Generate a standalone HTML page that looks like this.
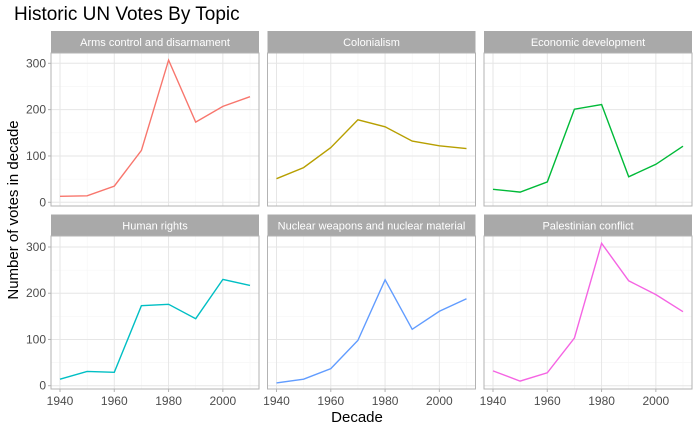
<!DOCTYPE html>
<html><head><meta charset="utf-8"><style>
body{margin:0;background:#fff}
svg{display:block;font-family:"Liberation Sans",Arial,sans-serif}
</style></head><body>
<svg id="chart" width="700" height="432">
<text x="14" y="20" font-size="19" fill="#000">Historic UN Votes By Topic</text>
<text transform="translate(18,210) rotate(-90)" text-anchor="middle" font-size="15" fill="#000">Number of votes in decade</text>
<text x="357" y="422" text-anchor="middle" font-size="15" fill="#000">Decade</text>
</svg>
<script>
const decades=[1940,1950,1960,1970,1980,1990,2000,2010];
const topics=["Arms control and disarmament","Colonialism","Economic development","Human rights","Nuclear weapons and nuclear material","Palestinian conflict"];
const armsVotes=[13,14,35,112,307,173,207,228];
const colonialismVotes=[51,75,118,178,163,132,122,116];
const economicVotes=[28,22,44,201,211,55,82,121];
const humanRightsVotes=[14,31,29,173,176,145,230,217];
const nuclearVotes=[6,14,37,98,229,122,161,188];
const palestinianVotes=[32,10,28,103,308,227,197,160];
const seriesValues=[armsVotes,colonialismVotes,economicVotes,humanRightsVotes,nuclearVotes,palestinianVotes];
const colors=["#F8766D","#B79F00","#00BA38","#00BFC4","#619CFF","#F564E3"];
const yTicks=[0,100,200,300];
const yMinor=[50,150,250];
const xTicks=[1940,1960,1980,2000];
const xMinor=[1950,1970,1990,2010];
const NS="http://www.w3.org/2000/svg";
const svg=document.getElementById('chart');
function mk(tag,attrs,parent){const e=document.createElementNS(NS,tag);for(const k in attrs)e.setAttribute(k,attrs[k]);(parent||svg).appendChild(e);return e;}
const pw=208, px0=[51,267.5,484], rows=[{st:31,pt:53,pb:206,y0:202.3,y300:63.3},{st:214.5,pt:236,pb:389,y0:385.7,y300:247}];
topics.forEach((t,i)=>{
  const r=rows[Math.floor(i/3)], x0=px0[i%3];
  const xs=d=>x0+9+(d-1940)*(190/70);
  const ys=v=>r.y0-(v/300)*(r.y0-r.y300);
  const g=mk('g',{});
  
  
  const strip=mk('rect',{x:x0,y:r.st,width:pw,height:r.pt-r.st,fill:'#A9A9A9'},g);
  
  
  const st=mk('text',{x:x0+pw/2,y:(r.st+r.pt)/2+4,'text-anchor':'middle','font-size':'11',fill:'#fff'},g);
  st.textContent=t;
  
  
  yMinor.forEach(v=>mk('line',{x1:x0,x2:x0+pw,y1:ys(v),y2:ys(v),stroke:'#F5F5F5','stroke-width':0.6},g));
  xMinor.forEach(d=>mk('line',{x1:xs(d),x2:xs(d),y1:r.pt,y2:r.pb,stroke:'#F5F5F5','stroke-width':0.6},g));
  yTicks.forEach(v=>mk('line',{x1:x0,x2:x0+pw,y1:ys(v),y2:ys(v),stroke:'#E6E6E6','stroke-width':1},g));
  xTicks.forEach(d=>mk('line',{x1:xs(d),x2:xs(d),y1:r.pt,y2:r.pb,stroke:'#E6E6E6','stroke-width':1},g));
  const border=mk('rect',{x:x0,y:r.pt,width:pw,height:r.pb-r.pt,fill:'none',stroke:'#B3B3B3','stroke-width':1},g);
  
  
  const pts=seriesValues[i].map((v,k)=>xs(decades[k]).toFixed(1)+','+ys(v).toFixed(1)).join(' ');
  const line=mk('polyline',{points:pts,fill:'none',stroke:colors[i],'stroke-width':1.4},g);
  
  
  if(i%3===0){
    yTicks.forEach(v=>{
      mk('line',{x1:x0-3,x2:x0,y1:ys(v),y2:ys(v),stroke:'#B3B3B3'},g);
      const tl=mk('text',{x:x0-5,y:ys(v)+4,'text-anchor':'end','font-size':'12',fill:'#4D4D4D'},g);
      tl.textContent=v;
      
      
    });
  }
  if(i>=3){
    xTicks.forEach(d=>{
      mk('line',{x1:xs(d),x2:xs(d),y1:r.pb,y2:r.pb+3,stroke:'#B3B3B3'},g);
      const tl=mk('text',{x:xs(d),y:r.pb+16,'text-anchor':'middle','font-size':'12',fill:'#4D4D4D'},g);
      tl.textContent=d;
      
      
    });
  }
});
</script>
</body></html>
